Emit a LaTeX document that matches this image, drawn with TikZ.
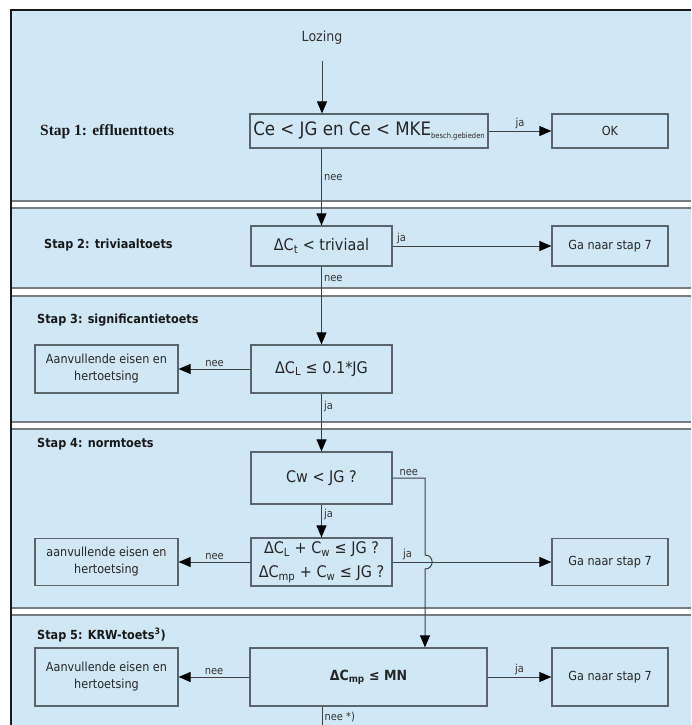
\documentclass[tikz,border=0pt]{standalone}
\usepackage{fontspec}
\setmainfont{DejaVu Sans}[FakeStretch=0.9]
\newfontfamily\stapserif{Liberation Serif}
\usetikzlibrary{arrows.meta}
\definecolor{bandblue}{RGB}{208,232,245}
\definecolor{boxline}{RGB}{90,100,106}
\definecolor{sepgray}{RGB}{118,124,128}
\begin{document}
\begin{tikzpicture}[x=1pt, y=-1pt,
  box/.style={draw=boxline, line width=1.2pt, inner sep=2pt, align=center, text=black!85, font=\fontsize{16}{24}\selectfont},
  small/.style={box, font=\fontsize{12.5}{17}\selectfont},
  stap/.style={anchor=west, inner sep=0pt, text=black!90, font=\bfseries\fontsize{12.5}{15}\selectfont},
  lbl/.style={inner sep=2pt, text=black!80, font=\fontsize{11}{13}\selectfont},
  arr/.style={draw=black!75, line width=1pt, -{Triangle[length=12pt, width=10pt, color=black]}},
  link/.style={draw=black!75, line width=1pt},
  sepline/.style={draw=sepgray, line width=1.6pt}
]
\useasboundingbox (0,0) rectangle (691,725);
\fill[white] (0,0) rectangle (691,725);
\fill[bandblue] (11,10) rectangle (691,725);
\foreach \ya/\yb in {201/208, 288/296, 422/429, 608/615} {
  \fill[white] (12,\ya) rectangle (691,\yb);
  \draw[sepline] (12,\ya) -- (691,\ya) (12,\yb) -- (691,\yb);
}
\draw[line width=2.5pt, black!90] (11,725) -- (11,10) -- (691,10);

\node[lbl, font=\fontsize{14}{16}\selectfont] (lozing) at (322,38) {Lozing};
\node[box, minimum width=238pt, minimum height=34pt, font=\fontsize{18.5}{20}\selectfont] (c1) at (369,131) {Ce < JG en Ce < MKE\raisebox{-2.5pt}{\fontsize{7.5}{8}\selectfont besch.gebieden}};
\node[small, minimum width=116pt, minimum height=34pt] (ok) at (610,131) {OK};
\node[box, minimum width=141pt, minimum height=40pt] (c2) at (321.5,246) {ΔC\textsubscript{t} < triviaal};
\node[small, minimum width=116pt, minimum height=40pt] (ga2) at (610,246) {Ga naar stap 7};
\node[box, minimum width=141pt, minimum height=48pt] (c3) at (321.5,369) {ΔC\textsubscript{L} ≤ 0.1*JG};
\node[small, minimum width=143pt, minimum height=48pt] (an3) at (106.5,369) {Aanvullende eisen en\\hertoetsing};
\node[box, minimum width=141pt, minimum height=52pt] (c4a) at (321.5,478) {Cw < JG ?};
\node[box, minimum width=141pt, minimum height=48pt] (c4b) at (321.5,562) {ΔC\textsubscript{L} + C\textsubscript{w} ≤ JG ?\\ΔC\textsubscript{mp} + C\textsubscript{w} ≤ JG ?};
\node[small, minimum width=143pt, minimum height=47pt] (an4) at (106.5,562) {aanvullende eisen en\\hertoetsing};
\node[small, minimum width=116pt, minimum height=47pt] (ga4) at (610,562) {Ga naar stap 7};
\node[box, minimum width=237pt, minimum height=58pt, font=\bfseries\fontsize{14}{16}\selectfont] (c5) at (368.5,677) {ΔC\textsubscript{mp} ≤ MN};
\node[small, minimum width=143pt, minimum height=58pt] (an5) at (106.5,677) {Aanvullende eisen en\\hertoetsing};
\node[small, minimum width=116pt, minimum height=58pt] (ga5) at (610,677) {Ga naar stap 7};

\node[stap, font=\stapserif\bfseries\fontsize{15.5}{17}\selectfont] (s1) at (40,132) {Stap 1: effluenttoets};
\node[stap] (s2) at (44,245) {Stap 2: triviaaltoets};
\node[stap] (s3) at (37,320) {Stap 3: significantietoets};
\node[stap] (s4) at (37,444) {Stap 4: normtoets};
\node[stap] (s5) at (37,635) {Stap 5: KRW-toets\textsuperscript{3})};

\coordinate (hop) at (425,562);
\coordinate (out5) at (322,730);

\draw[arr, shorten <=14pt] (lozing) -- (lozing |- c1.north);
\draw[arr] (c1) -- node[lbl, above] {ja} (ok);
\draw[arr] (c1.south -| c2.north) -- node[lbl, right, pos=0.38] {nee} (c2.north);
\draw[arr] (c2) -- node[lbl, above right, pos=0, xshift=2pt] {ja} (ga2);
\draw[arr] (c2) -- node[lbl, right, pos=0.15] {nee} (c3);
\draw[arr] (c3) -- node[lbl, above] {nee} (an3);
\draw[arr] (c3) -- node[lbl, right, pos=0.22] {ja} (c4a);
\draw[arr] (c4a) -- node[lbl, right, pos=0.3] {ja} (c4b);
\draw[arr] (c4a.east) -- node[lbl, above] {nee} (hop |- c4a.east) -- (425,555) .. controls (434.5,555) and (434.5,569) .. (425,569) -- (hop |- c5.north);
\draw[arr] (c4b) -- node[lbl, above] {nee} (an4);
\draw[arr] (c4b) -- node[lbl, above right, pos=0, xshift=8pt] {ja} (ga4);
\draw[arr] (c5) -- node[lbl, above] {nee} (an5);
\draw[arr] (c5) -- node[lbl, above] {ja} (ga5);
\draw[link] (c5.south -| out5) -- node[lbl, right, pos=0.45] {nee *)} (out5);
\end{tikzpicture}
\end{document}
